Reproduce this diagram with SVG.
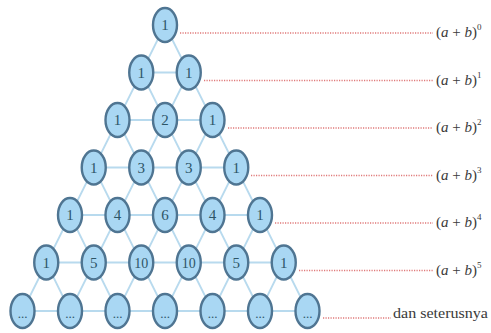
<svg xmlns="http://www.w3.org/2000/svg" width="491" height="333" viewBox="0 0 491 333">
  <style>
    .edge { stroke: #b8daee; stroke-width: 1.8; fill: none; }
    .lead { stroke: #e07a7a; stroke-width: 1.6; stroke-dasharray: 1.2 1.3; fill: none; }
    .node ellipse { fill: #a9d7f3; stroke: #4f7592; stroke-width: 2.4; }
    .node text { font-family: "Liberation Serif", "DejaVu Serif", serif; font-size: 15px; fill: #2d5567; text-anchor: middle; }
    .node text.dots { font-size: 13px; }
    .label { font-family: "Liberation Serif", "DejaVu Serif", serif; font-size: 15px; fill: #3a3a3a; }
    .label .v { font-style: italic; }
    .label .sup { font-size: 9px; }
  </style>

  <!-- lattice connectors between neighbouring entries -->
  <g id="connectors">
    <!-- horizontal links -->
    <path class="edge" d="M141.25 72.5H188.75 M117.5 120H212.5 M93.75 167.5H236.25 M70 215H260 M46.25 262.5H283.75 M22.5 311H307.5"/>
    <!-- down-left diagonal links -->
    <path class="edge" d="M165 25L22.5 311 M188.75 72.5L70 311 M212.5 120L117.5 311 M236.25 167.5L165 311 M260 215L212.5 311 M283.75 262.5L260 311"/>
    <!-- down-right diagonal links -->
    <path class="edge" d="M165 25L307.5 311 M141.25 72.5L260 311 M117.5 120L212.5 311 M93.75 167.5L165 311 M70 215L117.5 311 M46.25 262.5L70 311"/>
  </g>

  <!-- dotted leaders to the expansions -->
  <g id="leaders">
    <line class="lead" x1="180" y1="33" x2="433" y2="33"/>
    <line class="lead" x1="204" y1="80.5" x2="433" y2="80.5"/>
    <line class="lead" x1="228" y1="128" x2="433" y2="128"/>
    <line class="lead" x1="251" y1="175.5" x2="433" y2="175.5"/>
    <line class="lead" x1="275" y1="223" x2="433" y2="223"/>
    <line class="lead" x1="299" y1="270.5" x2="433" y2="270.5"/>
    <line class="lead" x1="323" y1="318" x2="391" y2="318"/>
  </g>

  <!-- row 0 -->
  <g id="n0-0" class="node"><ellipse cx="165" cy="25" rx="12" ry="17"/><text x="165" y="30">1</text></g>
  <!-- row 1 -->
  <g id="n1-0" class="node"><ellipse cx="141.25" cy="72.5" rx="12" ry="17"/><text x="141.25" y="77.5">1</text></g>
  <g id="n1-1" class="node"><ellipse cx="188.75" cy="72.5" rx="12" ry="17"/><text x="188.75" y="77.5">1</text></g>
  <!-- row 2 -->
  <g id="n2-0" class="node"><ellipse cx="117.5" cy="120" rx="12" ry="17"/><text x="117.5" y="125">1</text></g>
  <g id="n2-1" class="node"><ellipse cx="165" cy="120" rx="12" ry="17"/><text x="165" y="125">2</text></g>
  <g id="n2-2" class="node"><ellipse cx="212.5" cy="120" rx="12" ry="17"/><text x="212.5" y="125">1</text></g>
  <!-- row 3 -->
  <g id="n3-0" class="node"><ellipse cx="93.75" cy="167.5" rx="12" ry="17"/><text x="93.75" y="172.5">1</text></g>
  <g id="n3-1" class="node"><ellipse cx="141.25" cy="167.5" rx="12" ry="17"/><text x="141.25" y="172.5">3</text></g>
  <g id="n3-2" class="node"><ellipse cx="188.75" cy="167.5" rx="12" ry="17"/><text x="188.75" y="172.5">3</text></g>
  <g id="n3-3" class="node"><ellipse cx="236.25" cy="167.5" rx="12" ry="17"/><text x="236.25" y="172.5">1</text></g>
  <!-- row 4 -->
  <g id="n4-0" class="node"><ellipse cx="70" cy="215" rx="12" ry="17"/><text x="70" y="220">1</text></g>
  <g id="n4-1" class="node"><ellipse cx="117.5" cy="215" rx="12" ry="17"/><text x="117.5" y="220">4</text></g>
  <g id="n4-2" class="node"><ellipse cx="165" cy="215" rx="12" ry="17"/><text x="165" y="220">6</text></g>
  <g id="n4-3" class="node"><ellipse cx="212.5" cy="215" rx="12" ry="17"/><text x="212.5" y="220">4</text></g>
  <g id="n4-4" class="node"><ellipse cx="260" cy="215" rx="12" ry="17"/><text x="260" y="220">1</text></g>
  <!-- row 5 -->
  <g id="n5-0" class="node"><ellipse cx="46.25" cy="262.5" rx="12" ry="17"/><text x="46.25" y="267.5">1</text></g>
  <g id="n5-1" class="node"><ellipse cx="93.75" cy="262.5" rx="12" ry="17"/><text x="93.75" y="267.5">5</text></g>
  <g id="n5-2" class="node"><ellipse cx="141.25" cy="262.5" rx="12" ry="17"/><text x="141.25" y="267.5" textLength="14" lengthAdjust="spacingAndGlyphs">10</text></g>
  <g id="n5-3" class="node"><ellipse cx="188.75" cy="262.5" rx="12" ry="17"/><text x="188.75" y="267.5" textLength="14" lengthAdjust="spacingAndGlyphs">10</text></g>
  <g id="n5-4" class="node"><ellipse cx="236.25" cy="262.5" rx="12" ry="17"/><text x="236.25" y="267.5">5</text></g>
  <g id="n5-5" class="node"><ellipse cx="283.75" cy="262.5" rx="12" ry="17"/><text x="283.75" y="267.5">1</text></g>
  <!-- row 6 -->
  <g id="n6-0" class="node"><ellipse cx="22.5" cy="311" rx="12" ry="17"/><text class="dots" x="22.5" y="318">...</text></g>
  <g id="n6-1" class="node"><ellipse cx="70" cy="311" rx="12" ry="17"/><text class="dots" x="70" y="318">...</text></g>
  <g id="n6-2" class="node"><ellipse cx="117.5" cy="311" rx="12" ry="17"/><text class="dots" x="117.5" y="318">...</text></g>
  <g id="n6-3" class="node"><ellipse cx="165" cy="311" rx="12" ry="17"/><text class="dots" x="165" y="318">...</text></g>
  <g id="n6-4" class="node"><ellipse cx="212.5" cy="311" rx="12" ry="17"/><text class="dots" x="212.5" y="318">...</text></g>
  <g id="n6-5" class="node"><ellipse cx="260" cy="311" rx="12" ry="17"/><text class="dots" x="260" y="318">...</text></g>
  <g id="n6-6" class="node"><ellipse cx="307.5" cy="311" rx="12" ry="17"/><text class="dots" x="307.5" y="318">...</text></g>

  <!-- binomial powers -->
  <g id="labels">
    <text class="label" x="436" y="37">(<tspan class="v">a</tspan> + <tspan class="v">b</tspan>)<tspan class="sup" dy="-7">0</tspan></text>
    <text class="label" x="436" y="84.5">(<tspan class="v">a</tspan> + <tspan class="v">b</tspan>)<tspan class="sup" dy="-7">1</tspan></text>
    <text class="label" x="436" y="132">(<tspan class="v">a</tspan> + <tspan class="v">b</tspan>)<tspan class="sup" dy="-7">2</tspan></text>
    <text class="label" x="436" y="179.5">(<tspan class="v">a</tspan> + <tspan class="v">b</tspan>)<tspan class="sup" dy="-7">3</tspan></text>
    <text class="label" x="436" y="227">(<tspan class="v">a</tspan> + <tspan class="v">b</tspan>)<tspan class="sup" dy="-7">4</tspan></text>
    <text class="label" x="436" y="274.5">(<tspan class="v">a</tspan> + <tspan class="v">b</tspan>)<tspan class="sup" dy="-7">5</tspan></text>
    <text class="label" x="393" y="318" font-size="15" textLength="95" lengthAdjust="spacingAndGlyphs">dan seterusnya</text>
  </g>
</svg>
